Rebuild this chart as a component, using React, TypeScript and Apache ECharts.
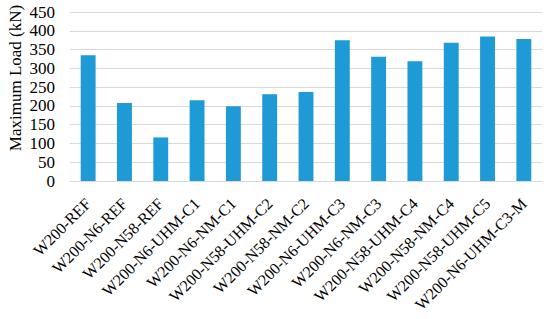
import React, { useEffect, useRef } from "react";
import * as echarts from "echarts";

const categories = [
  "W200-REF",
  "W200-N6-REF",
  "W200-N58-REF",
  "W200-N6-UHM-C1",
  "W200-N6-NM-C1",
  "W200-N58-UHM-C2",
  "W200-N58-NM-C2",
  "W200-N6-UHM-C3",
  "W200-N6-NM-C3",
  "W200-N58-UHM-C4",
  "W200-N58-NM-C4",
  "W200-N58-UHM-C5",
  "W200-N6-UHM-C3-M",
];
const maxLoad = [335, 208, 116, 215, 199, 231, 237, 375, 331, 319, 368, 385, 378];
const yAxisName = "Maximum Load (kN)";

export default function App() {
  const ref = useRef<HTMLDivElement>(null);
  useEffect(() => {
    if (!ref.current) return;
    const chart = echarts.init(ref.current, null, { renderer: "svg" });
    const font = "Liberation Serif";
    chart.setOption({
      animation: false,
      textStyle: { fontFamily: font },
      grid: { left: 70, right: 8, top: 12, bottom: 138, containLabel: false },
      graphic: [
        {
          type: "text",
          x: 15,
          y: 78,
          rotation: Math.PI / 2,
          style: {
            text: yAxisName,
            fill: "#000",
            font: "17px Liberation Serif",
            align: "center",
            verticalAlign: "middle",
          },
        },
      ],
      xAxis: {
        type: "category",
        data: categories,
        axisLine: { show: true, lineStyle: { color: "#d9d9d9", width: 1 } },
        axisTick: { show: false },
        axisLabel: {
          rotate: 45,
          interval: 0,
          margin: 20,
          color: "#000",
          fontSize: 16,
          fontFamily: font,
        },
      },
      yAxis: {
        type: "value",
        min: 0,
        max: 450,
        interval: 50,
        axisLine: { show: false },
        axisTick: { show: false },
        axisLabel: { color: "#000", fontSize: 17, margin: 15, fontFamily: font },
        splitLine: { show: true, lineStyle: { color: "#d9d9d9", width: 1 } },
      },
      series: [
        {
          type: "bar",
          data: maxLoad,
          barWidth: "41%",
          itemStyle: { color: "#1e9ad6" },
        },
      ],
    });
    return () => chart.dispose();
  }, []);
  return <div ref={ref} style={{ width: 550, height: 319, position: "absolute", left: 0, top: 0 }} />;
}
